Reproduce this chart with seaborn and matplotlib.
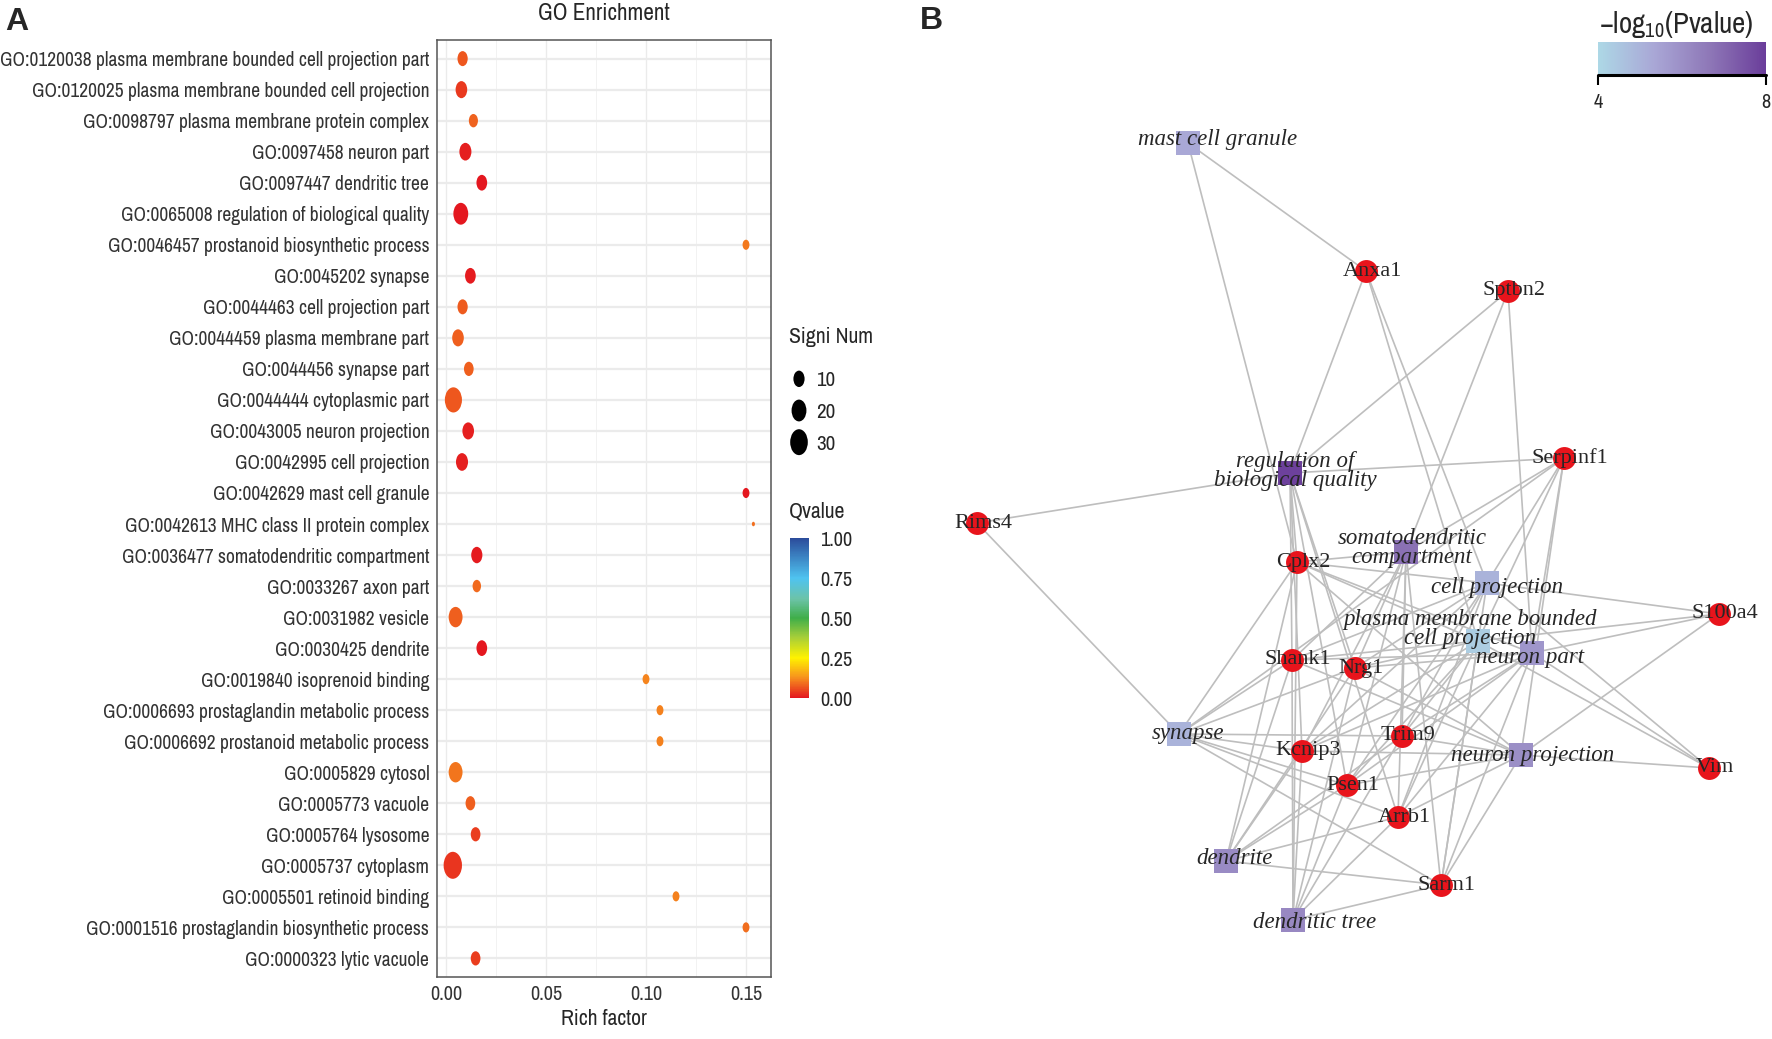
import numpy as np
import pandas as pd
import matplotlib
matplotlib.use("Agg")
import matplotlib.pyplot as plt
import seaborn as sns
from matplotlib.path import Path
from matplotlib.colors import LinearSegmentedColormap, Normalize
from matplotlib.collections import LineCollection
from matplotlib.cm import ScalarMappable

W, H = 1772, 1039

# ---- panel A data (GO enrichment) ----
go_terms = [
    "GO:0120038 plasma membrane bounded cell projection part",
    "GO:0120025 plasma membrane bounded cell projection",
    "GO:0098797 plasma membrane protein complex",
    "GO:0097458 neuron part",
    "GO:0097447 dendritic tree",
    "GO:0065008 regulation of biological quality",
    "GO:0046457 prostanoid biosynthetic process",
    "GO:0045202 synapse",
    "GO:0044463 cell projection part",
    "GO:0044459 plasma membrane part",
    "GO:0044456 synapse part",
    "GO:0044444 cytoplasmic part",
    "GO:0043005 neuron projection",
    "GO:0042995 cell projection",
    "GO:0042629 mast cell granule",
    "GO:0042613 MHC class II protein complex",
    "GO:0036477 somatodendritic compartment",
    "GO:0033267 axon part",
    "GO:0031982 vesicle",
    "GO:0030425 dendrite",
    "GO:0019840 isoprenoid binding",
    "GO:0006693 prostaglandin metabolic process",
    "GO:0006692 prostanoid metabolic process",
    "GO:0005829 cytosol",
    "GO:0005773 vacuole",
    "GO:0005764 lysosome",
    "GO:0005737 cytoplasm",
    "GO:0005501 retinoid binding",
    "GO:0001516 prostaglandin biosynthetic process",
    "GO:0000323 lytic vacuole",
]
rich_factor = [0.0083, 0.0077, 0.0137, 0.0097, 0.0179, 0.0074, 0.150, 0.0122,
               0.0083, 0.0060, 0.0114, 0.0037, 0.0111, 0.0080, 0.150, 0.1537,
               0.0154, 0.0154, 0.0048, 0.0179, 0.100, 0.107, 0.107, 0.0048,
               0.0122, 0.0148, 0.0034, 0.115, 0.150, 0.0148]
signi_num = [8, 11, 6, 12, 9, 20, 3, 9, 8, 11, 7, 28, 11, 12, 3, 1,
             10, 5, 17, 9, 3, 3, 3, 17, 7, 7, 33, 3, 3, 7]
qvalue = [0.070, 0.036, 0.079, 0.009, 0.003, 0.001, 0.103, 0.004, 0.074, 0.078,
          0.075, 0.070, 0.008, 0.010, 0.002, 0.090, 0.005, 0.086, 0.076, 0.003,
          0.115, 0.110, 0.110, 0.100, 0.075, 0.040, 0.035, 0.110, 0.090, 0.040]
size_breaks = [10, 20, 30]
q_breaks = [0.00, 0.25, 0.50, 0.75, 1.00]

# ---- panel B data (gene / GO network) ----
genes = ["Anxa1", "Sptbn2", "Serpinf1", "Rims4", "Cplx2", "S100a4", "Shank1",
         "Nrg1", "Trim9", "Kcnip3", "Psen1", "Arrb1", "Vim", "Sarm1"]
gene_x = [1366, 1508, 1564, 977, 1297, 1719, 1292, 1355, 1402, 1302, 1347, 1398, 1709, 1441]
gene_y = [271, 291, 458, 523, 562, 614, 660, 668, 736, 751, 785, 817, 768, 885]

terms = ["mast cell granule", "regulation of\nbiological quality",
         "somatodendritic\ncompartment", "cell projection",
         "plasma membrane bounded\ncell projection", "neuron part", "synapse",
         "neuron projection", "dendrite", "dendritic tree"]
term_x = [1188, 1290, 1406, 1487, 1478, 1532, 1179, 1521, 1226, 1293]
term_y = [143, 473, 552, 583, 641, 653, 734, 755, 861, 920]
term_logp = [5.3, 7.9, 6.8, 5.0, 4.3, 5.8, 5.0, 6.0, 6.1, 6.2]
members = {
    "mast cell granule": ["Anxa1", "Cplx2"],
    "regulation of\nbiological quality": ["Anxa1", "Sptbn2", "Serpinf1", "Rims4", "Cplx2",
                                         "Shank1", "Nrg1", "Kcnip3", "Psen1", "Arrb1"],
    "somatodendritic\ncompartment": ["Sptbn2", "Serpinf1", "Cplx2", "Shank1", "Nrg1",
                                     "Trim9", "Kcnip3", "Psen1", "Arrb1", "Sarm1"],
    "cell projection": ["Anxa1", "Serpinf1", "Cplx2", "S100a4", "Shank1", "Nrg1",
                        "Trim9", "Kcnip3", "Psen1", "Arrb1", "Sarm1", "Vim"],
    "plasma membrane bounded\ncell projection": ["Anxa1", "Serpinf1", "Cplx2", "S100a4",
                                                 "Shank1", "Nrg1", "Trim9", "Kcnip3",
                                                 "Psen1", "Arrb1", "Sarm1", "Vim"],
    "neuron part": ["Sptbn2", "Serpinf1", "Cplx2", "S100a4", "Shank1", "Nrg1", "Trim9",
                    "Kcnip3", "Psen1", "Arrb1", "Sarm1", "Vim"],
    "synapse": ["Rims4", "Serpinf1", "Cplx2", "Shank1", "Nrg1", "Trim9", "Kcnip3",
                "Psen1", "Arrb1", "Sarm1"],
    "neuron projection": ["Serpinf1", "Cplx2", "S100a4", "Shank1", "Nrg1", "Trim9",
                          "Kcnip3", "Psen1", "Arrb1", "Sarm1", "Vim"],
    "dendrite": ["Cplx2", "Shank1", "Nrg1", "Trim9", "Kcnip3", "Psen1", "Arrb1", "Sarm1"],
    "dendritic tree": ["Cplx2", "Shank1", "Nrg1", "Trim9", "Kcnip3", "Psen1", "Arrb1", "Sarm1"],
}

narrow = ["Liberation Sans Narrow", "Archivo Narrow", "PT Sans Narrow", "Roboto Condensed",
          "IBM Plex Sans Condensed", "DejaVu Sans"]
serif = ["Liberation Serif", "DejaVu Serif"]

sns.set_style("white")
plt.rcParams["font.family"] = narrow

q_cmap = LinearSegmentedColormap.from_list("q", [
    (0.00, "#E4171F"), (0.13, "#F7941D"), (0.25, "#FFF200"), (0.38, "#A6CE39"),
    (0.50, "#3FAE49"), (0.62, "#6CC3A8"), (0.75, "#4FC3F0"), (1.00, "#2B4C9B")])
p_cmap = LinearSegmentedColormap.from_list("p", ["#ADD8E6", "#A9A7D6", "#8E77B7", "#6A3D9A"])


def dot_pt(v):
    # ggplot-like area palette: diameter grows with sqrt of rescaled value
    lo, hi = min(signi_num), max(signi_num)
    return 3.24 * (1 + 5 * np.sqrt((np.clip(v, lo, hi) - lo) / (hi - lo)))


ell = Path.unit_circle()
ell = Path(ell.vertices * np.array([0.68, 1.0]), ell.codes)

fig = plt.figure(figsize=(W / 100, H / 100), dpi=100, facecolor="w")

# fit the narrow font so the longest term label spans ~429 px as in the reference
probe = fig.text(0, 0, go_terms[0], fontsize=13.4)
pw = probe.get_window_extent(renderer=fig.canvas.get_renderer()).width
probe.remove()
k = 429 / pw
fs_y = 13.4 * k

# ---------------- panel B (network), drawn on a full-figure canvas ----------------
axB = fig.add_axes([0, 0, 1, 1], zorder=0)
gpos = {g: (x, y) for g, x, y in zip(genes, gene_x, gene_y)}
segs = []
for t, tx, ty in zip(terms, term_x, term_y):
    for g in members[t]:
        segs.append([(tx, ty), gpos[g]])
axB.add_collection(LineCollection(segs, colors="#BEBEBE", linewidths=1.2, zorder=1))

dfg = pd.DataFrame({"x": gene_x, "y": gene_y, "name": genes})
sns.scatterplot(data=dfg, x="x", y="y", color="#E8141C", s=16.5 ** 2, marker="o",
                linewidth=0, ax=axB, zorder=3)
dft = pd.DataFrame({"x": term_x, "y": term_y, "logp": term_logp, "name": terms})
sns.scatterplot(data=dft, x="x", y="y", hue="logp", hue_norm=(4, 8), palette=p_cmap,
                s=17.3 ** 2, marker="s", linewidth=0, legend=False, ax=axB, zorder=3)

for g, x, y in zip(genes, gene_x, gene_y):
    axB.text(x + 6, y, g, ha="center", va="center", fontsize=16, family=serif, zorder=4)
term_nudge = {"mast cell granule": (30, -3), "regulation of\nbiological quality": (5, -2),
              "somatodendritic\ncompartment": (6, -4), "cell projection": (10, 4),
              "plasma membrane bounded\ncell projection": (-8, -12), "neuron part": (-2, 4),
              "synapse": (9, 0), "neuron projection": (12, 0), "dendrite": (9, -3),
              "dendritic tree": (22, 2)}
for t, x, y in zip(terms, term_x, term_y):
    dx, dy = term_nudge[t]
    axB.text(x + dx, y + dy, t, ha="center", va="center", fontsize=16.5, style="italic",
             family=serif, linespacing=0.9, zorder=4)
axB.set_xlim(0, W)
axB.set_ylim(H, 0)
axB.axis("off")

# colour bar of panel B
cbx = fig.add_axes([1598 / W, 1 - 75 / H, 168 / W, 33 / H])
cbB = fig.colorbar(ScalarMappable(Normalize(4, 8), p_cmap), cax=cbx, orientation="horizontal")
cbB.outline.set_visible(False)
cbB.set_ticks([4, 8])
cbx.tick_params(axis="x", length=7, width=1.5, color="k", labelsize=14 * k, pad=6)
cbx.plot([0, 1], [0, 0], transform=cbx.transAxes, color="k", lw=2.2, clip_on=False)
fig.text(1676 / W, 1 - 24 / H, r"$\mathregular{-log_{10}(Pvalue)}$", ha="center",
         va="center", fontsize=20 * k)

# ---------------- panel A (dot plot) ----------------
axA = fig.add_axes([437 / W, 1 - 977 / H, (771 - 437) / W, (977 - 40) / H], zorder=2)
dfA = pd.DataFrame({"term": go_terms, "rich": rich_factor, "num": signi_num, "q": qvalue})
size_map = {v: dot_pt(v) ** 2 for v in sorted(set(signi_num))}
sns.scatterplot(data=dfA, x="rich", y="term", hue="q", hue_norm=(0, 1), palette=q_cmap,
                size="num", sizes=size_map, marker=ell, linewidth=0, legend=False,
                ax=axA, zorder=3)
axA.set_xlim(-0.0045, 0.1625)
axA.set_ylim(len(go_terms) - 0.4, -0.6)
axA.set_xticks([0, 0.05, 0.10, 0.15])
axA.set_xticklabels(["0.00", "0.05", "0.10", "0.15"])
axA.set_xticks([0.025, 0.075, 0.125], minor=True)
axA.set_yticks(range(len(go_terms)))
axA.set_yticklabels(go_terms)
axA.set_axisbelow(True)
axA.grid(axis="y", color="#EBEBEB", lw=1.6)
axA.grid(axis="x", which="major", color="#EBEBEB", lw=1.0)
axA.grid(axis="x", which="minor", color="#F2F2F2", lw=0.7)
for s in axA.spines.values():
    s.set_color("#555555")
    s.set_linewidth(1.1)
axA.tick_params(axis="both", which="major", length=3.5, width=0.9, color="#333333",
                labelcolor="#333333", labelsize=fs_y, pad=2)
axA.tick_params(axis="x", which="minor", length=0)
axA.tick_params(axis="x", labelsize=14 * k)
axA.set_xlabel("Rich factor", fontsize=15 * k, labelpad=4)
axA.set_ylabel("")
fig.text(604 / W, 1 - 14 / H, "GO Enrichment", ha="center", va="center", fontsize=16 * k)

# size legend: keys drawn from the legend breaks with the same size scale
fig.text(789 / W, 1 - 337 / H, "Signi Num", ha="left", va="center", fontsize=15 * k)
lgx = fig.add_axes([789 / W, 1 - 458 / H, 20 / W, 95 / H])
dfL = pd.DataFrame({"x": [0] * len(size_breaks), "y": range(len(size_breaks)),
                    "num": size_breaks})
sns.scatterplot(data=dfL, x="x", y="y", size="num",
                sizes={v: dot_pt(v) ** 2 for v in size_breaks}, color="k", marker=ell,
                linewidth=0, legend=False, ax=lgx)
lgx.set_xlim(-1, 1)
lgx.set_ylim(len(size_breaks) - 0.5, -0.5)
lgx.set_xticks([])
lgx.set_yticks(range(len(size_breaks)))
lgx.set_yticklabels([str(v) for v in size_breaks])
lgx.yaxis.tick_right()
lgx.tick_params(axis="y", length=0, labelsize=14.5 * k, pad=5)
lgx.set_xlabel("")
lgx.set_ylabel("")
for s in lgx.spines.values():
    s.set_visible(False)
lgx.patch.set_alpha(0)

# Qvalue colour bar
fig.text(789 / W, 1 - 512 / H, "Qvalue", ha="left", va="center", fontsize=15 * k)
cqx = fig.add_axes([790 / W, 1 - 698 / H, 19 / W, 160 / H])
cbA = fig.colorbar(ScalarMappable(Normalize(0, 1), q_cmap), cax=cqx)
cbA.outline.set_visible(False)
cbA.set_ticks(q_breaks)
cbA.set_ticklabels([f"{v:.2f}" for v in q_breaks])
cqx.tick_params(axis="y", direction="in", color="white", length=4, width=1,
                left=True, right=True, labelsize=14 * k, pad=8)

fig.text(17 / W, 1 - 22 / H, "A", ha="center", va="center", fontsize=23,
         fontweight="bold", family=["Liberation Sans", "DejaVu Sans"])
fig.text(931 / W, 1 - 21 / H, "B", ha="center", va="center", fontsize=23,
         fontweight="bold", family=["Liberation Sans", "DejaVu Sans"])

fig.savefig("out.png", dpi=100, facecolor="w")
